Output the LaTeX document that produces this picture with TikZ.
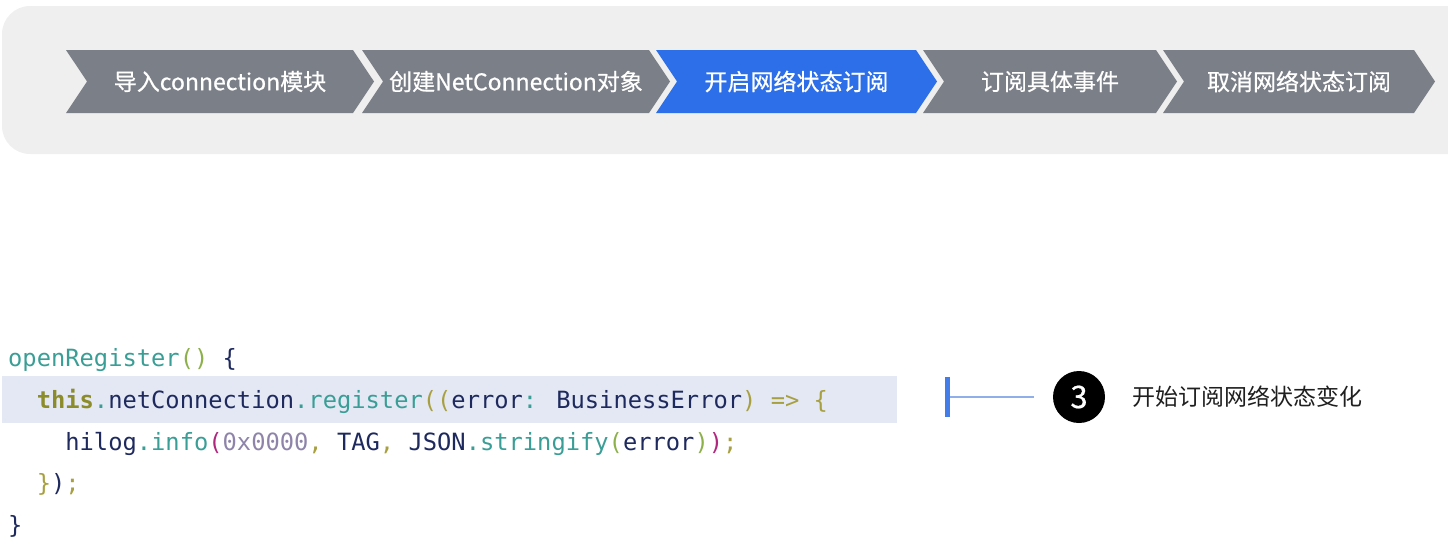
\documentclass[tikz,border=0pt]{standalone}
\usepackage{fontspec}
\setmainfont{Noto Sans CJK SC}
\newfontfamily\stepfont{Noto Sans CJK SC}[FakeBold=0.6]
\newfontfamily\codefont{DejaVu Sans Mono}
\usepackage{tikz}
\usetikzlibrary{positioning,shapes.symbols}
\definecolor{panelgray}{HTML}{EFEFEF}
\definecolor{stepgray}{HTML}{7B7F88}
\definecolor{stepblue}{HTML}{2D6FE8}
\definecolor{hlband}{HTML}{E3E8F4}
\definecolor{fncol}{HTML}{3A9E96}
\definecolor{inkcol}{HTML}{1E2A5E}
\definecolor{brkcol}{HTML}{A8A040}
\definecolor{kwcol}{HTML}{8C8C2A}
\definecolor{magcol}{HTML}{B0287E}
\definecolor{numcol}{HTML}{8E84AA}
\definecolor{grncol}{HTML}{8CB04A}
\definecolor{leadblue}{HTML}{8FAEEA}
\newcommand{\tk}[2]{\textcolor{#1}{#2}}
\newcommand{\ind}[1]{\hphantom{#1}}

\begin{document}
\begin{tikzpicture}[x=1pt, y=-1pt,
    stepbox/.style={shape=signal, signal from=west, signal to=east,
                    signal pointer angle=112.6, minimum height=63, inner sep=0,
                    text=white, font=\stepfont\fontsize{23}{26}\selectfont},
    code/.style={anchor=base west, inner sep=0, text=inkcol,
                 font=\codefont\fontsize{23.75}{28}\selectfont},
  ]
  \useasboundingbox (0,0) rectangle (1448,542);
  \clip (0,0) rectangle (1448,542);

  % progress bar
  \fill[panelgray, rounded corners=28] (2,6) rectangle (1480,154);
  \node[stepbox, fill=stepgray, minimum width=308] (s1) at (220,81.5) {导入connection模块};
  \node[stepbox, fill=stepgray, minimum width=308] (s2) at (516,81.5) {创建NetConnection对象};
  \node[stepbox, fill=stepblue, minimum width=281] (s3) at (796.5,81.5) {开启网络状态订阅};
  \node[stepbox, fill=stepgray, minimum width=254] (s4) at (1050,81.5) {订阅具体事件};
  \node[stepbox, fill=stepgray, minimum width=272] (s5) at (1299,81.5) {取消网络状态订阅};

  % code listing
  \fill[hlband] (2,376) rectangle (897,423);
  \node[code] (c1) at (8,366) {\tk{fncol}{openRegister}\tk{grncol}{()} \{};
  \node[code] (c2) at (8,408) {\ind{xx}\tk{kwcol}{\bfseries this}\tk{fncol}{.}netConnection\tk{fncol}{.register}\tk{brkcol}{((}error\tk{fncol}{:} BusinessError\tk{brkcol}{)} \tk{brkcol}{=>} \tk{brkcol}{\{}};
  \node[code] (c3) at (8,450) {\ind{xxxx}hilog\tk{fncol}{.info}\tk{magcol}{(}\tk{numcol}{0x0000}\tk{brkcol}{,} TAG\tk{brkcol}{,} JSON\tk{fncol}{.stringify}\tk{grncol}{(}error\tk{grncol}{)}\tk{magcol}{)}\tk{brkcol}{;}};
  \node[code] (c4) at (8,491) {\ind{xx}\tk{brkcol}{\}})\tk{brkcol}{;}};
  \node[code] (c5) at (8,533) {\}};

  % callout
  \node[fill=stepblue!90, minimum width=5, minimum height=40, inner sep=0] (bar) at (947.5,397) {};
  \coordinate (lead) at (1034,397);
  \node[circle, fill=black, minimum size=52, inner sep=0, text=white,
        font=\stepfont\fontsize{31}{32}\selectfont] (num) at (1079,397) {3};
  \node[anchor=west, text=black!88, font=\fontsize{23}{26}\selectfont,
        right=24 of num] (note) {开始订阅网络状态变化};
  \draw[leadblue, line width=1.5] (bar.east) -- (lead);
\end{tikzpicture}
\end{document}
